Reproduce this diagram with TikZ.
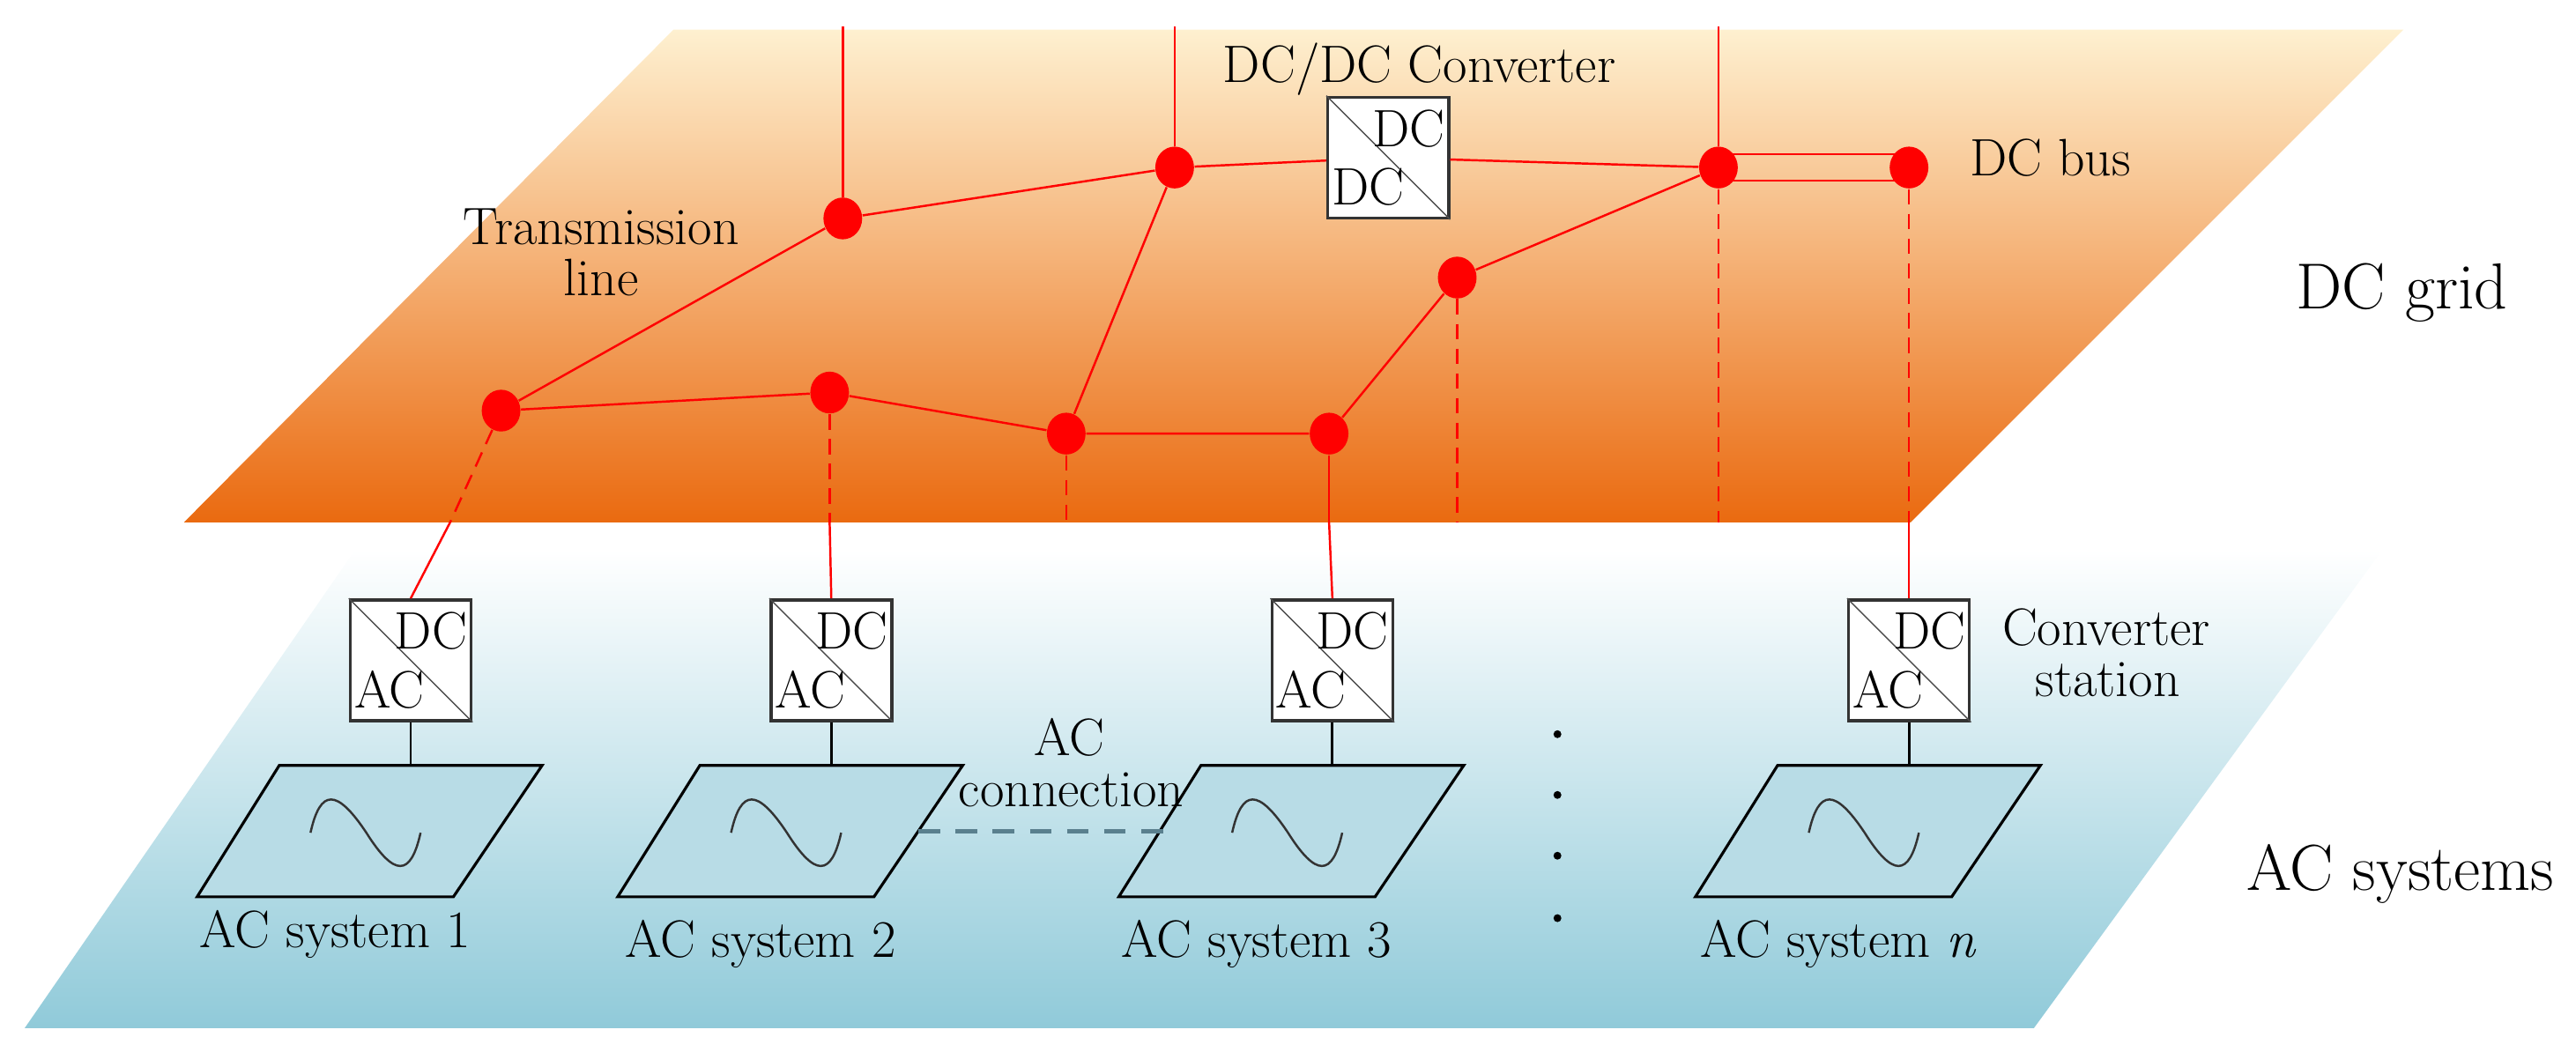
\documentclass[tikz,border=0pt]{standalone}
\usetikzlibrary{shapes.geometric,calc}
\definecolor{dcred}{HTML}{FF0000}
\definecolor{dctop}{HTML}{FEF0D0}
\definecolor{dcbot}{HTML}{EA6A10}
\definecolor{acbot}{HTML}{90CAD9}
\definecolor{acsys}{HTML}{B8DCE6}
\definecolor{acdash}{HTML}{5A808E}
\begin{document}
\begin{tikzpicture}[x=0.01864cm,y=-0.01864cm,
  txt/.style={font=\fontsize{17}{19}\selectfont,inner sep=0pt},
  big/.style={font=\fontsize{21}{23}\selectfont,inner sep=0pt},
  bus/.style={ellipse,fill=dcred,minimum width=12.5pt,minimum height=13.5pt,inner sep=0pt},
  line/.style={dcred,line width=0.7pt},
  dline/.style={dcred,line width=0.7pt,dash pattern=on 5pt off 3pt},
  conv/.style={draw=black!80,fill=white,line width=1pt,minimum width=39pt,minimum height=39pt,inner sep=0pt},
  acs/.style={draw=black,fill=acsys,line width=0.9pt}]
\useasboundingbox (0,0) rectangle (1568,640);
% planes
\shade[top color=white,bottom color=acbot] (216,335) -- (1450,335) -- (1238,626) -- (15,626) -- cycle;
\shade[top color=dctop,bottom color=dcbot] (410,18) -- (1463,18) -- (1163,318) -- (112,318) -- cycle;
% bus nodes
\node[bus] (n1) at (305,250) {};
\node[bus] (n2) at (513,133) {};
\node[bus] (n3) at (715,102) {};
\node[bus] (n4) at (505,239) {};
\node[bus] (n5) at (649,264) {};
\node[bus] (n6) at (809,264) {};
\node[bus] (n7) at (887,169) {};
\node[bus] (n8) at (1046,102) {};
\node[bus] (n9) at (1162,102) {};
% DC/DC converter
\node[conv] (dd) at (845,96) {};
\draw[black!70] (dd.north west) -- (dd.south east);
\node[txt,anchor=north east] at ($(dd.north east)+(-3,8)$) {DC};
\node[txt,anchor=south west] at ($(dd.south west)+(3,-8)$) {DC};
% coords
\coordinate (t2) at (513,16);
\coordinate (t3) at (715,16);
\coordinate (t8) at (1046,16);
\coordinate (b1) at (274,318);
\coordinate (b4) at (505,318);
\coordinate (b5) at (649,318);
\coordinate (b6) at (809,318);
\coordinate (b7) at (887,318);
\coordinate (b8) at (1046,318);
\coordinate (b9) at (1162,318);
% lines
\draw[line] (n2) -- (t2) (n3) -- (t3) (n8) -- (t8);
\draw[line] (n1) -- (n2) -- (n3) -- (dd) -- (n8);
\draw[line] (n1) -- (n4) -- (n5) -- (n6) -- (n7) -- (n8);
\draw[line] (n5) -- (n3);
\draw[line] ($(n8)+(0,-8)$) -- ($(n9)+(0,-8)$);
\draw[line] ($(n8)+(0,8)$) -- ($(n9)+(0,8)$);
\draw[dline] (n1) -- (b1);
\draw[dline] (n4) -- (b4);
\draw[dline] (n5) -- (b5);
\draw[line] (n6) -- (b6);
\draw[dline] (n7) -- (b7);
\draw[dline] (n8) -- (b8);
\draw[dline] (n9) -- (b9);
% converters and AC systems
\foreach \i/\x in {1/250,2/506,3/811,4/1162}{
  \node[conv] (c\i) at (\x,402) {};
  \draw[black!70] (c\i.north west) -- (c\i.south east);
  \node[txt,anchor=north east] at ($(c\i.north east)+(-3,8)$) {DC};
  \node[txt,anchor=south west] at ($(c\i.south west)+(3,-8)$) {AC};
  \draw[acs] (\x-80,466) -- (\x+80,466) -- (\x+26,546) -- (\x-130,546) -- cycle;
  \coordinate (s\i) at (\x,466);
  \coordinate (s\i r) at (\x+53,506);
  \coordinate (s\i l) at (\x-103,506);
  \draw[black!80,line width=0.7pt] (\x-61,507) .. controls (\x-55,480) and (\x-45,480) .. (\x-27,507)
     .. controls (\x-10,534) and (\x-0,534) .. (\x+6,507);
  \draw[black,line width=0.8pt] (c\i.south) -- (s\i);
}
\draw[line] (b1) -- (c1.north);
\draw[line] (b4) -- (c2.north);
\draw[line] (b6) -- (c3.north);
\draw[line] (b9) -- (c4.north);
\draw[acdash,line width=1.4pt,dash pattern=on 7pt off 5pt] (s2r) -- (s3l);
% labels
\node[txt] at (204,569) {AC system 1};
\node[txt] at (463,575) {AC system 2};
\node[txt] at (765,575) {AC system 3};
\node[txt] at (1119,575) {AC system \textit{n}};
\node[txt] at (651,449) {AC};
\node[txt] at (652,481) {connection};
\node[txt] at (864,42) {DC/DC Converter};
\node[txt] at (1248,96) {DC bus};
\node[txt] at (366,138) {Transmission};
\node[txt] at (366,169) {line};
\node[big] at (1462,178) {DC grid};
\node[big] at (1461,532) {AC systems};
\node[txt] at (1282,382) {Converter};
\node[txt] at (1283,414) {station};
\foreach \yy in {447,484,521,559} \fill (948,\yy) circle (2.4);
\end{tikzpicture}
\end{document}
